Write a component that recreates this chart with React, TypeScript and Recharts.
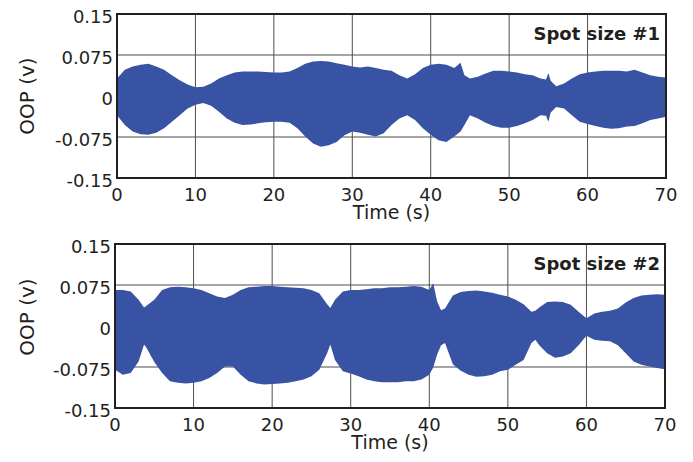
import React from 'react';
import {
  Area,
  CartesianGrid,
  ComposedChart,
  ReferenceArea,
  XAxis,
  YAxis,
} from 'recharts';

const FONT = '"DejaVu Sans", sans-serif';
const INK = '#231f20';
const BLUE = '#3953a4';

const X_TICKS = [0, 10, 20, 30, 40, 50, 60, 70];
const Y_TICKS = [-0.15, -0.075, 0, 0.075, 0.15];

// envelope of the OOP signal, spot size #1
const TIME_1 = [
  0, 1, 2, 3, 4, 5, 6, 7, 8, 9, 10, 11, 12, 13, 14, 15, 16, 17, 18, 19, 20,
  21, 22, 23, 24, 25, 26, 27, 28, 29, 30, 31, 32, 33, 34, 35, 36, 37, 38, 39,
  40, 41, 42, 43, 43.8, 44.3, 45, 46, 47, 48, 49, 50, 51, 52, 53, 54, 54.7,
  55, 55.3, 56, 57, 58, 59, 60, 61, 62, 63, 64, 65, 66, 67, 68, 69, 70,
];
const UPPER_1 = [
  0.032, 0.048, 0.054, 0.057, 0.059, 0.054, 0.048, 0.038, 0.029, 0.021, 0.016,
  0.017, 0.023, 0.032, 0.038, 0.043, 0.045, 0.045, 0.045, 0.044, 0.043, 0.043,
  0.045, 0.051, 0.059, 0.063, 0.064, 0.063, 0.06, 0.057, 0.054, 0.052, 0.054,
  0.051, 0.048, 0.046, 0.038, 0.032, 0.04, 0.051, 0.057, 0.059, 0.057, 0.051,
  0.061, 0.038, 0.032, 0.035, 0.041, 0.046, 0.046, 0.045, 0.043, 0.04, 0.038,
  0.032, 0.03, 0.042, 0.028, 0.018, 0.023, 0.032, 0.04, 0.043, 0.045, 0.046,
  0.046, 0.046, 0.045, 0.048, 0.043, 0.038, 0.035, 0.034,
];
const LOWER_1 = [
  -0.035, -0.053, -0.065, -0.07, -0.071, -0.067, -0.059, -0.047, -0.035,
  -0.023, -0.016, -0.013, -0.018, -0.029, -0.041, -0.049, -0.053, -0.052,
  -0.05, -0.048, -0.047, -0.047, -0.049, -0.059, -0.074, -0.087, -0.093, -0.09,
  -0.084, -0.072, -0.065, -0.067, -0.071, -0.074, -0.068, -0.053, -0.041,
  -0.035, -0.044, -0.059, -0.071, -0.081, -0.084, -0.074, -0.065, -0.053,
  -0.035, -0.041, -0.049, -0.055, -0.058, -0.058, -0.055, -0.05, -0.044,
  -0.035, -0.036, -0.047, -0.03, -0.02, -0.023, -0.035, -0.047, -0.051, -0.055,
  -0.058, -0.06, -0.059, -0.056, -0.055, -0.05, -0.044, -0.041, -0.038,
];

// envelope of the OOP signal, spot size #2
const TIME_2 = [
  0, 1, 2, 3, 3.7, 4, 5, 6, 7, 8, 9, 10, 11, 12, 13, 14, 15, 16, 17, 18, 19,
  20, 21, 22, 23, 24, 25, 26, 27, 27.4, 28, 29, 30, 31, 32, 33, 34, 35, 36, 37,
  38, 39, 40, 40.5, 41, 41.5, 42, 43, 44, 45, 46, 47, 48, 49, 50, 51, 52, 53,
  53.5, 54, 55, 56, 57, 58, 59, 60, 61, 62, 63, 64, 65, 66, 67, 68, 69, 70,
];
const UPPER_2 = [
  0.066, 0.066, 0.063, 0.048, 0.034, 0.037, 0.048, 0.066, 0.071, 0.072, 0.071,
  0.069, 0.066, 0.06, 0.054, 0.051, 0.057, 0.066, 0.071, 0.072, 0.073, 0.073,
  0.072, 0.071, 0.07, 0.069, 0.066, 0.06, 0.04, 0.033, 0.048, 0.063, 0.066,
  0.066, 0.067, 0.069, 0.069, 0.071, 0.071, 0.072, 0.073, 0.072, 0.066, 0.078,
  0.045, 0.029, 0.032, 0.056, 0.062, 0.064, 0.065, 0.063, 0.061, 0.057, 0.054,
  0.048, 0.04, 0.026, 0.028, 0.034, 0.044, 0.045, 0.044, 0.039, 0.026, 0.014,
  0.023, 0.026, 0.028, 0.032, 0.043, 0.051, 0.056, 0.057, 0.058, 0.057,
];
const LOWER_2 = [
  -0.08, -0.089, -0.086, -0.065, -0.034, -0.04, -0.066, -0.086, -0.101, -0.104,
  -0.105, -0.104, -0.101, -0.095, -0.086, -0.074, -0.074, -0.089, -0.101,
  -0.105, -0.107, -0.106, -0.105, -0.104, -0.101, -0.098, -0.092, -0.08, -0.05,
  -0.034, -0.062, -0.083, -0.087, -0.092, -0.098, -0.101, -0.103, -0.103,
  -0.103, -0.101, -0.101, -0.098, -0.089, -0.076, -0.052, -0.035, -0.031,
  -0.07, -0.082, -0.089, -0.093, -0.092, -0.089, -0.083, -0.08, -0.071, -0.062,
  -0.031, -0.025, -0.035, -0.05, -0.058, -0.056, -0.05, -0.035, -0.018, -0.025,
  -0.027, -0.028, -0.035, -0.05, -0.065, -0.071, -0.074, -0.077, -0.079,
];

const tickFmt = (v: number) => (v === 0 ? '0' : String(v));

interface PanelProps {
  time: number[];
  upper: number[];
  lower: number[];
  tag: string;
  left: number;
  plotWidth: number;
  ylabelDy: number;
}

function Panel({ time, upper, lower, tag, left, plotWidth, ylabelDy }: PanelProps) {
  const data = time.map((t, i) => ({ t, range: [lower[i], upper[i]] }));
  return (
    <div style={{ position: 'relative', width: 693, height: 230 }}>
      <ComposedChart
        width={693}
        height={230}
        data={data}
        margin={{ top: 14, right: 693 - left - plotWidth, bottom: 0, left: 0 }}
      >
        <CartesianGrid stroke="#4d4d4d" strokeWidth={1} />
        <XAxis
          dataKey="t"
          type="number"
          domain={[0, 70]}
          ticks={X_TICKS}
          interval={0}
          axisLine={false}
          tickLine={false}
          tickSize={0}
          tickMargin={10}
          height={52}
          tick={{ fontSize: 18, fill: INK, fontFamily: FONT }}
          label={{
            value: 'Time (s)',
            position: 'center',
            dy: 8,
            fontSize: 19,
            fill: INK,
            fontFamily: FONT,
          }}
        />
        <YAxis
          type="number"
          domain={[-0.15, 0.15]}
          ticks={Y_TICKS}
          interval={0}
          tickFormatter={tickFmt}
          axisLine={false}
          tickLine={false}
          tickSize={0}
          tickMargin={4}
          width={left}
          tick={{ fontSize: 18, fill: INK, fontFamily: FONT, dy: 3 }}
          label={{
            value: 'OOP (v)',
            angle: -90,
            position: 'center',
            dx: 27 - left / 2,
            dy: ylabelDy,
            fontSize: 20,
            fill: INK,
            fontFamily: FONT,
          }}
        />
        <Area
          dataKey="range"
          type="linear"
          fill={BLUE}
          fillOpacity={1}
          stroke="none"
          isAnimationActive={false}
        />
        <ReferenceArea
          x1={0}
          x2={70}
          y1={-0.15}
          y2={0.15}
          fill="none"
          stroke={INK}
          strokeWidth={2}
        />
      </ComposedChart>
      <div
        style={{
          position: 'absolute',
          right: 33,
          top: 25,
          fontFamily: FONT,
          fontWeight: 'bold',
          fontSize: 18,
          lineHeight: '18px',
          color: INK,
          whiteSpace: 'nowrap',
        }}
      >
        {tag}
      </div>
    </div>
  );
}

export default function App() {
  return (
    <div
      style={{
        position: 'absolute',
        left: 0,
        top: 0,
        width: 693,
        height: 462,
        background: '#fff',
      }}
    >
      <Panel
        time={TIME_1}
        upper={UPPER_1}
        lower={LOWER_1}
        tag="Spot size #1"
        left={117}
        plotWidth={549}
        ylabelDy={0}
      />
      <Panel
        time={TIME_2}
        upper={UPPER_2}
        lower={LOWER_2}
        tag="Spot size #2"
        left={115}
        plotWidth={550}
        ylabelDy={-9}
      />
    </div>
  );
}
